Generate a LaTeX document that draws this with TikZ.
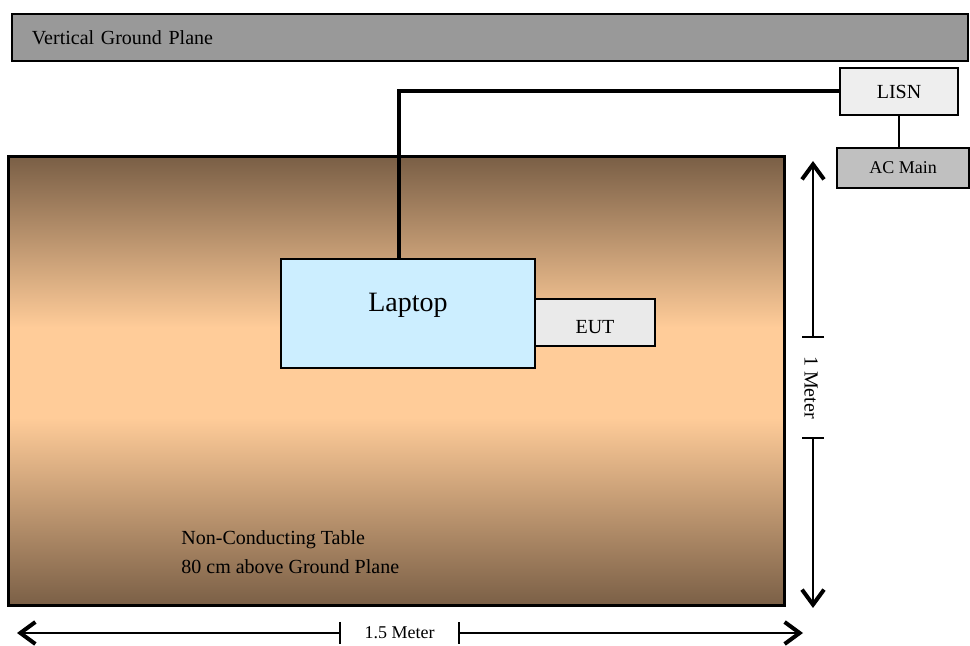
\documentclass[tikz,border=0pt]{standalone}
\usepackage{fontspec}
\setmainfont{Liberation Serif}
\usetikzlibrary{arrows.meta}
\definecolor{planegray}{RGB}{153,153,153}
\definecolor{tablebrown}{RGB}{122,95,70}
\definecolor{tablepeach}{RGB}{255,204,153}
\definecolor{laptopblue}{RGB}{204,238,255}
\definecolor{eutgray}{RGB}{234,234,234}
\definecolor{lisngray}{RGB}{238,238,238}
\definecolor{maingray}{RGB}{192,192,192}
\pgfdeclareverticalshading{tablewood}{100bp}{color(0bp)=(tablebrown); color(25bp)=(tablebrown);
    color(46bp)=(tablepeach); color(56bp)=(tablepeach); color(75bp)=(tablebrown); color(100bp)=(tablebrown)}
\begin{document}
\begin{tikzpicture}[x=0.5pt, y=-0.5pt,
    box/.style={draw, line width=1pt, inner sep=0pt, font=\fontsize{10}{12}\selectfont},
    cable/.style={line width=2pt},
    dimline/.style={line width=0.8pt,
        {Bar[width=11pt]}-{Straight Barb[length=7.5pt, width=11pt, line width=2pt]}}]
    \useasboundingbox (0,0) rectangle (970,646);
    % ground plane and table
    \node[box, fill=planegray, minimum height=23.5pt, text width=458pt, inner xsep=10pt, align=left] (plane) at (490,37.5) {Vertical Ground Plane};
    \node[draw, line width=1.5pt, shade, shading=tablewood, minimum width=388pt, minimum height=224.5pt, inner sep=0pt] (table) at (396,381.5) {};
    \node[anchor=north west, align=left, inner sep=0pt, font=\fontsize{10}{14.5}\selectfont] (tablenote) at (181,530) {Non-Conducting Table\\80 cm above Ground Plane};
    % equipment
    \node[box, fill=laptopblue, minimum width=127pt, minimum height=54.5pt, font=\fontsize{14}{16}\selectfont, text height=9.5pt, text depth=11pt] (laptop) at (408,313.5) {Laptop};
    \node[box, fill=eutgray, minimum width=60pt, minimum height=23.5pt, text height=10.6pt, text depth=0pt] (eut) at (595,322.5) {EUT};
    \node[box, fill=lisngray, minimum width=59pt, minimum height=23.5pt] (lisn) at (899,91.5) {LISN};
    \node[box, fill=maingray, minimum width=66pt, minimum height=20pt, font=\fontsize{9}{11}\selectfont] (acmain) at (903,168) {AC Main};
    % cables
    \draw[cable] ([xshift=-4.5pt]laptop.north) |- (lisn.west);
    \draw[line width=1pt] (lisn.south) -- (lisn.south |- acmain.north);
    % dimensions
    \node[rotate=-90, minimum width=49.5pt, inner sep=0pt, font=\fontsize{10}{12}\selectfont] (height) at (811,387.5) {1 Meter};
    \coordinate (heighttop) at (813,161);
    \coordinate (heightbot) at (813,608);
    \draw[dimline] (height.west -| heighttop) -- (heighttop);
    \draw[dimline] (height.east -| heightbot) -- (heightbot);
    \node[minimum width=58.5pt, inner sep=0pt, font=\fontsize{9}{11}\selectfont] (width) at (399.5,633) {1.5 Meter};
    \coordinate (widthleft) at (17,633);
    \coordinate (widthright) at (803,633);
    \draw[dimline] (width.west) -- (widthleft);
    \draw[dimline] (width.east) -- (widthright);
\end{tikzpicture}
\end{document}
